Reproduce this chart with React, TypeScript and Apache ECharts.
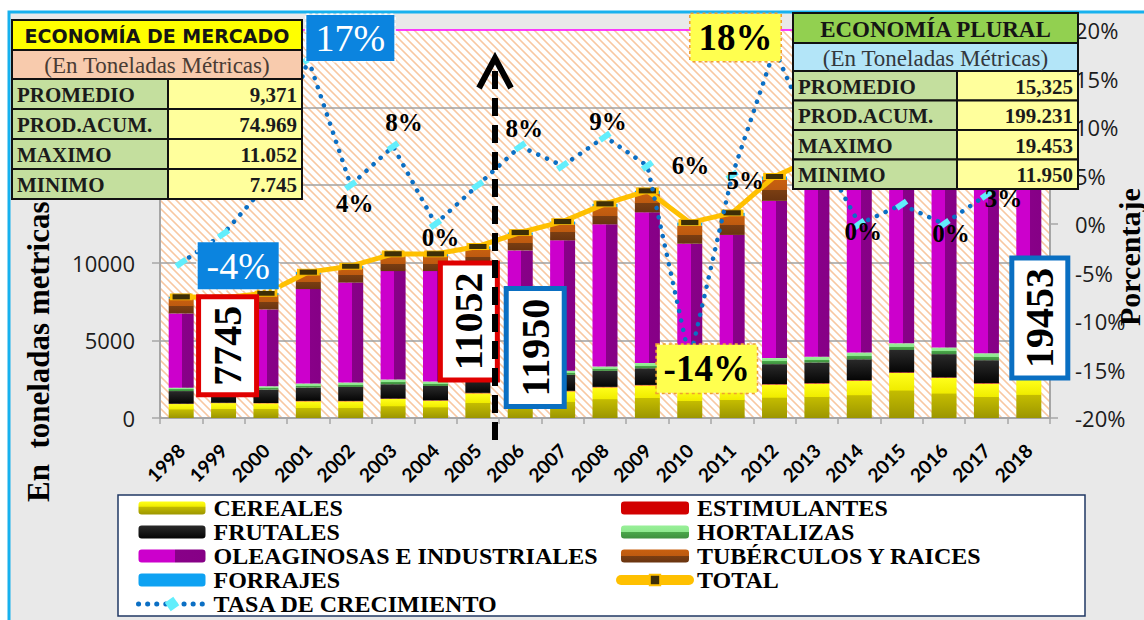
import React, { useEffect, useRef } from "react";
import * as echarts from "echarts";

// ---------- DATA ----------
const YEARS = ["1998","1999","2000","2001","2002","2003","2004","2005","2006","2007","2008","2009","2010","2011","2012","2013","2014","2015","2016","2017","2018"];

const CEREALES = [900, 960, 945, 1075, 1075, 1225, 1115, 1590, 1650, 1720, 1975, 2100, 1800, 1900, 2150, 2210, 2400, 2900, 2580, 2210, 2450];
const ESTIMULANTES = [20, 20, 20, 25, 25, 25, 25, 30, 30, 30, 30, 30, 30, 30, 30, 35, 35, 40, 35, 35, 35];
const FRUTALES = [815, 860, 860, 860, 900, 925, 925, 950, 1000, 1030, 1030, 1075, 980, 1000, 1290, 1330, 1350, 1440, 1500, 1480, 1450];
const HORTALIZAS = [215, 215, 215, 260, 280, 300, 280, 290, 300, 260, 280, 340, 330, 340, 390, 365, 430, 430, 430, 450, 430];
const OLEAGINOSAS = [4785, 4630, 4955, 6085, 6445, 6990, 7122, 7042, 7820, 8410, 9165, 9705, 8090, 8525, 10130, 11230, 10955, 10660, 10885, 11715, 13358];
const TUBERCULOS = [965, 950, 925, 965, 925, 965, 965, 1000, 1000, 1030, 1120, 1180, 1160, 1225, 1350, 1400, 1400, 1420, 1420, 1450, 1480];
const FORRAJES = [110, 110, 120, 130, 130, 140, 140, 150, 150, 170, 200, 210, 200, 200, 220, 220, 230, 230, 230, 240, 250];
const TOTAL = [7810, 7745, 8040, 9400, 9780, 10570, 10572, 11052, 11950, 12650, 13800, 14640, 12590, 13220, 15560, 16790, 16800, 17120, 17080, 17580, 19453];
const TASA = [-4, -1, 4, 17, 4, 8, 0, 4, 8, 6, 9, 6, -14, 5, 18, 8, 0, 2, 0, 3, 11];

const TONNES_AXIS = { min: 0, max: 25000, interval: 5000 };
const PCT_AXIS = { min: -20, max: 20, interval: 5 };

const SUBTITLE = "(En Toneladas Métricas)";
const MERCADO_TITLE = "ECONOMÍA DE MERCADO";
const MERCADO_ROWS: [string, string][] = [["PROMEDIO", "9,371"], ["PROD.ACUM.", "74.969"], ["MAXIMO", "11.052"], ["MINIMO", "7.745"]];
const PLURAL_TITLE = "ECONOMÍA PLURAL";
const PLURAL_ROWS: [string, string][] = [["PROMEDIO", "15,325"], ["PROD.ACUM.", "199.231"], ["MAXIMO", "19.453"], ["MINIMO", "11.950"]];

const N_CEREALES = "CEREALES";
const N_ESTIM = "ESTIMULANTES";
const N_FRUT = "FRUTALES";
const N_HORT = "HORTALIZAS";
const N_OLEA = "OLEAGINOSAS E INDUSTRIALES";
const N_TUB = "TUBÉRCULOS Y RAICES";
const N_FORR = "FORRAJES";
const N_TOTAL = "TOTAL";
const N_TASA = "TASA DE CRECIMIENTO";

// ---------- STYLE CONFIG (label placement) ----------
type LabelKind = "blue" | "yellow" | "plain";
const TASA_LABELS: Record<number, { kind: LabelKind; dx: number; dy: number; w?: number; h?: number }> = {
  0: { kind: "blue", dx: 57, dy: 3, w: 81, h: 47 },
  3: { kind: "blue", dx: 42, dy: -21, w: 88, h: 46 },
  4: { kind: "plain", dx: 4, dy: 18 },
  5: { kind: "plain", dx: 11, dy: -24 },
  6: { kind: "plain", dx: 5, dy: 13 },
  8: { kind: "plain", dx: 4, dy: -18 },
  10: { kind: "plain", dx: 3, dy: -15 },
  11: { kind: "plain", dx: 43, dy: 0 },
  12: { kind: "yellow", dx: 17, dy: 9, w: 100, h: 48 },
  13: { kind: "plain", dx: 13, dy: 5 },
  14: { kind: "yellow", dx: -39, dy: -12, w: 90, h: 47 },
  16: { kind: "plain", dx: 4, dy: 7 },
  18: { kind: "plain", dx: 7, dy: 9 },
  19: { kind: "plain", dx: 17, dy: 4 },
};
// screen offsets (sx, sy) of the rotated value boxes relative to their point
const TOTAL_LABELS: Record<number, { color: string; sx: number; sy: number; len: number; thick: number }> = {
  1: { color: "#e00000", sx: 4, sy: 48, len: 93, thick: 53 },
  7: { color: "#e00000", sx: -9, sy: 75, len: 112, thick: 52 },
  8: { color: "#0a6fc2", sx: 15, sy: 115, len: 113, thick: 53 },
  20: { color: "#0a6fc2", sx: 11, sy: 202, len: 115, thick: 51 },
};

function vgrad(stops: [number, string][]) {
  return { type: "linear", x: 0, y: 0, x2: 0, y2: 1, colorStops: stops.map(([o, c]) => ({ offset: o, color: c })) };
}
function hgrad(stops: [number, string][]) {
  return { type: "linear", x: 0, y: 0, x2: 1, y2: 0, colorStops: stops.map(([o, c]) => ({ offset: o, color: c })) };
}

function makeHatch(): HTMLCanvasElement {
  const c = document.createElement("canvas");
  c.width = 8;
  c.height = 8;
  const ctx = c.getContext("2d")!;
  ctx.fillStyle = "#ffffff";
  ctx.fillRect(0, 0, 8, 8);
  for (let y = 0; y < 8; y++) {
    for (let x = 0; x < 8; x++) {
      const d = (((x - y) % 8) + 8) % 8;
      if (d === 0) {
        ctx.fillStyle = "#f7c8a2";
        ctx.fillRect(x, y, 1, 1);
      } else if (d === 1 || d === 7) {
        ctx.fillStyle = "#fbdcc4";
        ctx.fillRect(x, y, 1, 1);
      }
    }
  }
  return c;
}

function buildTable(o: {
  x: number; y: number; w: number; col: number; titleH: number; subH: number; rowH: number;
  title: string; titleFill: string; titleFont: string; subFill: string; subColor: string; rows: [string, string][];
}) {
  const z = 100;
  const els: any[] = [];
  const stroke = "#111";
  const lw = 2;
  els.push({ type: "rect", z, shape: { x: o.x, y: o.y, width: o.w, height: o.titleH }, style: { fill: o.titleFill, stroke, lineWidth: lw } });
  els.push({
    type: "text", z: z + 1, x: o.x + o.w / 2, y: o.y + o.titleH / 2 + 1,
    style: { text: o.title, font: o.titleFont, fill: "#151515", align: "center", verticalAlign: "middle", textAlign: "center", textVerticalAlign: "middle" },
  });
  const sy = o.y + o.titleH;
  els.push({ type: "rect", z, shape: { x: o.x, y: sy, width: o.w, height: o.subH }, style: { fill: o.subFill, stroke, lineWidth: lw } });
  els.push({
    type: "text", z: z + 1, x: o.x + o.w / 2, y: sy + o.subH / 2 + 1,
    style: { text: SUBTITLE, font: '23px "Liberation Serif"', fill: o.subColor, align: "center", verticalAlign: "middle", textAlign: "center", textVerticalAlign: "middle" },
  });
  o.rows.forEach((r, i) => {
    const ry = sy + o.subH + i * o.rowH;
    els.push({ type: "rect", z, shape: { x: o.x, y: ry, width: o.col, height: o.rowH }, style: { fill: "#c4df9e", stroke, lineWidth: lw } });
    els.push({ type: "rect", z, shape: { x: o.x + o.col, y: ry, width: o.w - o.col, height: o.rowH }, style: { fill: "#ffff9c", stroke, lineWidth: lw } });
    els.push({
      type: "text", z: z + 1, x: o.x + 5, y: ry + o.rowH / 2 + 1,
      style: { text: r[0], font: 'bold 21px "Liberation Serif"', fill: "#1b1b1b", align: "left", verticalAlign: "middle", textAlign: "left", textVerticalAlign: "middle" },
    });
    els.push({
      type: "text", z: z + 1, x: o.x + o.w - 5, y: ry + o.rowH / 2 + 1,
      style: { text: r[1], font: 'bold 21px "Liberation Serif"', fill: "#1b1b1b", align: "right", verticalAlign: "middle", textAlign: "right", textVerticalAlign: "middle" },
    });
  });
  return els;
}

export default function App() {
  const ref = useRef<HTMLDivElement>(null);

  useEffect(() => {
    if (!ref.current) return;
    const chart = echarts.init(ref.current, undefined, { renderer: "svg" });

    const gridLeft = 160, gridRight = 94, gridTop = 30, gridBottom = 202;
    const plotW = 1144 - gridLeft - gridRight;
    const plotH = 620 - gridTop - gridBottom;

    const barBase = { type: "bar", stack: "prod", barWidth: 25, yAxisIndex: 0, emphasis: { disabled: true } };

    const tasaData = TASA.map((v, i) => {
      const cfg = TASA_LABELS[i];
      if (!cfg) return v;
      let label: any;
      if (cfg.kind === "plain") {
        label = {
          show: true, position: "inside", offset: [cfg.dx, cfg.dy], formatter: "{c}%",
          color: "#000", fontFamily: "Liberation Serif", fontWeight: "bold", fontSize: 25,
        };
      } else if (cfg.kind === "blue") {
        label = {
          show: true, position: "inside", offset: [cfg.dx, cfg.dy], formatter: "{c}%",
          color: "#fff", fontFamily: "Liberation Serif", fontWeight: "normal", fontSize: 38,
          backgroundColor: "#0b84df", borderColor: "#ffffff", borderWidth: 1.5, borderType: "dotted",
          width: cfg.w, height: cfg.h, lineHeight: cfg.h, align: "center", verticalAlign: "middle",
        };
      } else {
        label = {
          show: true, position: "inside", offset: [cfg.dx, cfg.dy], formatter: "{c}%",
          color: "#000", fontFamily: "Liberation Serif", fontWeight: "bold", fontSize: 37,
          backgroundColor: "#ffff4f", borderColor: "#f0a030", borderWidth: 1.5, borderType: "dotted",
          width: cfg.w, height: cfg.h, lineHeight: cfg.h, align: "center", verticalAlign: "middle",
        };
      }
      return { value: v, label };
    });

    const totalData = TOTAL.map((v, i) => {
      const cfg = TOTAL_LABELS[i];
      if (!cfg) return v;
      return {
        value: v,
        label: {
          show: true, position: "inside", offset: [-cfg.sy, cfg.sx], rotate: 90, formatter: "{c}",
          color: "#000", fontFamily: "Liberation Serif", fontWeight: "bold", fontSize: 40,
          backgroundColor: "#ffffff", borderColor: cfg.color, borderWidth: 5,
          width: cfg.len, height: cfg.thick, lineHeight: cfg.thick, align: "center", verticalAlign: "middle",
        },
      };
    });

    const legendText = { fontFamily: "Liberation Serif", fontWeight: "bold", fontSize: 24, color: "#000", lineHeight: 24, padding: [0, 0, 0, 3] };

    const graphics: any[] = [
      { type: "rect", z: -10, shape: { x: 9, y: 12, width: 1160, height: 640 }, style: { fill: "#e9e9e9", stroke: "#17b1ee", lineWidth: 3 } },
      { type: "rect", z: -9, shape: { x: gridLeft, y: gridTop, width: plotW, height: plotH }, style: { fill: { image: makeHatch(), repeat: "repeat", imageWidth: 8, imageHeight: 8 } } },
      { type: "rect", z: 3, shape: { x: 118, y: 495, width: 967, height: 121 }, style: { fill: "#ffffff", stroke: "#203864", lineWidth: 1.5 } },
      {
        type: "text", z: 5, x: 38, y: 502, rotation: Math.PI / 2,
        style: { text: "En  toneladas metricas", font: 'bold 31px "Liberation Serif"', fill: "#000", align: "left", verticalAlign: "middle", textAlign: "left", textVerticalAlign: "middle" },
      },
      {
        type: "text", z: 5, x: 1129, y: 326, rotation: Math.PI / 2,
        style: { text: "Porcentaje", font: 'bold 30px "Liberation Serif"', fill: "#000", align: "left", verticalAlign: "middle", textAlign: "left", textVerticalAlign: "middle" },
      },
      // dashed arrow
      { type: "line", z: 110, shape: { x1: 495, y1: 440, x2: 495, y2: 64 }, style: { stroke: "#000", lineWidth: 6, lineDash: [18, 9] } },
      { type: "polyline", z: 110, shape: { points: [[479, 88], [495, 58], [511, 88]] }, style: { stroke: "#000", lineWidth: 6, fill: null, lineJoin: "miter" } },
      ...buildTable({
        x: 12, y: 20, w: 290, col: 156, titleH: 30, subH: 29, rowH: 30,
        title: MERCADO_TITLE, titleFill: "#ffff00", titleFont: 'bold 19px "DejaVu Sans"',
        subFill: "#f8cbad", subColor: "#4a3c34", rows: MERCADO_ROWS,
      }),
      ...buildTable({
        x: 793, y: 13, w: 285, col: 164, titleH: 30, subH: 28, rowH: 29.5,
        title: PLURAL_TITLE, titleFill: "#92d050", titleFont: 'bold 23px "Liberation Serif"',
        subFill: "#b3e5f8", subColor: "#33383d", rows: PLURAL_ROWS,
      }),
    ];

    const option: any = {
      animation: false,
      backgroundColor: "#ffffff",
      grid: { left: gridLeft, right: gridRight, top: gridTop, bottom: gridBottom },
      legend: [
        {
          data: [
            N_CEREALES, N_FRUT, N_OLEA, N_FORR,
            { name: N_TASA, lineStyle: { width: 5, color: "#0b6fc4", type: [0.1, 9], cap: "round" } },
          ],
          orient: "vertical", left: 136, top: 496,
          itemWidth: 67, itemHeight: 13, itemGap: 0, padding: 0, textStyle: legendText, selectedMode: false,
        },
        {
          data: [
            N_ESTIM, N_HORT, N_TUB,
            { name: N_TOTAL, lineStyle: { width: 10, color: "#ffc000", cap: "round" } },
          ],
          orient: "vertical", left: 616, top: 496,
          itemWidth: 68, itemHeight: 13, itemGap: 0, padding: 0, textStyle: legendText, selectedMode: false,
        },
      ],
      xAxis: {
        type: "category", data: YEARS,
        axisLine: { lineStyle: { color: "#a6a6a6", width: 2 } },
        axisTick: { show: true, length: 6, lineStyle: { color: "#a6a6a6", width: 1.5 } },
        axisLabel: { rotate: 45, margin: 29, interval: 0, color: "#000", fontSize: 19, fontWeight: "bold", fontFamily: "Lato" },
      },
      yAxis: [
        {
          type: "value", min: TONNES_AXIS.min, max: TONNES_AXIS.max, interval: TONNES_AXIS.interval,
          axisLine: { show: true, lineStyle: { color: "#a6a6a6", width: 2 } },
          axisTick: { show: true, length: 8, lineStyle: { color: "#a6a6a6", width: 1.5 } },
          axisLabel: { margin: 25, color: "#1c1c1c", fontSize: 22, fontFamily: "Open Sans", formatter: (v: number) => String(v) },
          splitLine: { show: true, lineStyle: { color: ["#a0a0a0", "#a0a0a0", "#a0a0a0", "#a0a0a0", "#a0a0a0", "#ff00ff"], width: 1.5 } },
        },
        {
          type: "value", position: "right", min: PCT_AXIS.min, max: PCT_AXIS.max, interval: PCT_AXIS.interval,
          axisLine: { show: true, lineStyle: { color: "#a6a6a6", width: 2 } },
          axisTick: { show: true, length: 8, lineStyle: { color: "#a6a6a6", width: 1.5 } },
          axisLabel: { margin: 25, color: "#1c1c1c", fontSize: 22, fontFamily: "Open Sans", formatter: "{value}%" },
          splitLine: { show: false },
        },
      ],
      series: [
        { ...barBase, name: N_CEREALES, data: CEREALES, itemStyle: { color: vgrad([[0, "#ffff1a"], [0.38, "#f0ec00"], [0.4, "#c4bc00"], [1, "#9c9600"]]) } },
        { ...barBase, name: N_ESTIM, data: ESTIMULANTES, itemStyle: { color: "#d20000" } },
        { ...barBase, name: N_FRUT, data: FRUTALES, itemStyle: { color: vgrad([[0, "#2a2a2a"], [1, "#050505"]]) } },
        { ...barBase, name: N_HORT, data: HORTALIZAS, itemStyle: { color: vgrad([[0, "#98f098"], [0.5, "#8ee88e"], [0.5, "#4aa84a"], [1, "#3f8f3f"]]) } },
        { ...barBase, name: N_OLEA, data: OLEAGINOSAS, itemStyle: { color: hgrad([[0, "#cc00cc"], [0.55, "#cc00cc"], [0.55, "#880088"], [1, "#860086"]]) } },
        { ...barBase, name: N_TUB, data: TUBERCULOS, itemStyle: { color: vgrad([[0, "#c8600f"], [0.5, "#bd5a10"], [0.5, "#7a3e12"], [1, "#6a3410"]]) } },
        { ...barBase, name: N_FORR, data: FORRAJES, itemStyle: { color: "#0ea2f2" } },
        {
          type: "line", name: N_TOTAL, yAxisIndex: 0, data: totalData, z: 3,
          symbol: "rect", symbolSize: [20, 6], showAllSymbol: true,
          lineStyle: { color: "#ffc000", width: 5, cap: "round", join: "round" },
          itemStyle: { color: "#3d2e06", borderColor: "#ffc000", borderWidth: 1.5 },
          label: { show: false }, emphasis: { disabled: true },
        },
        {
          type: "line", name: N_TASA, yAxisIndex: 1, data: tasaData, z: 4,
          symbol: "rect", symbolSize: [12, 6], symbolRotate: 35, showAllSymbol: true,
          lineStyle: { color: "#0b6fc4", width: 4.5, type: [0.1, 9.5], cap: "round" },
          itemStyle: { color: "#62eefc" },
          label: { show: false }, emphasis: { disabled: true },
        },
      ],
      graphic: { elements: graphics },
    };

    chart.setOption(option);
    return () => chart.dispose();
  }, []);

  return <div ref={ref} style={{ position: "absolute", left: 0, top: 0, width: 1144, height: 620 }} />;
}
